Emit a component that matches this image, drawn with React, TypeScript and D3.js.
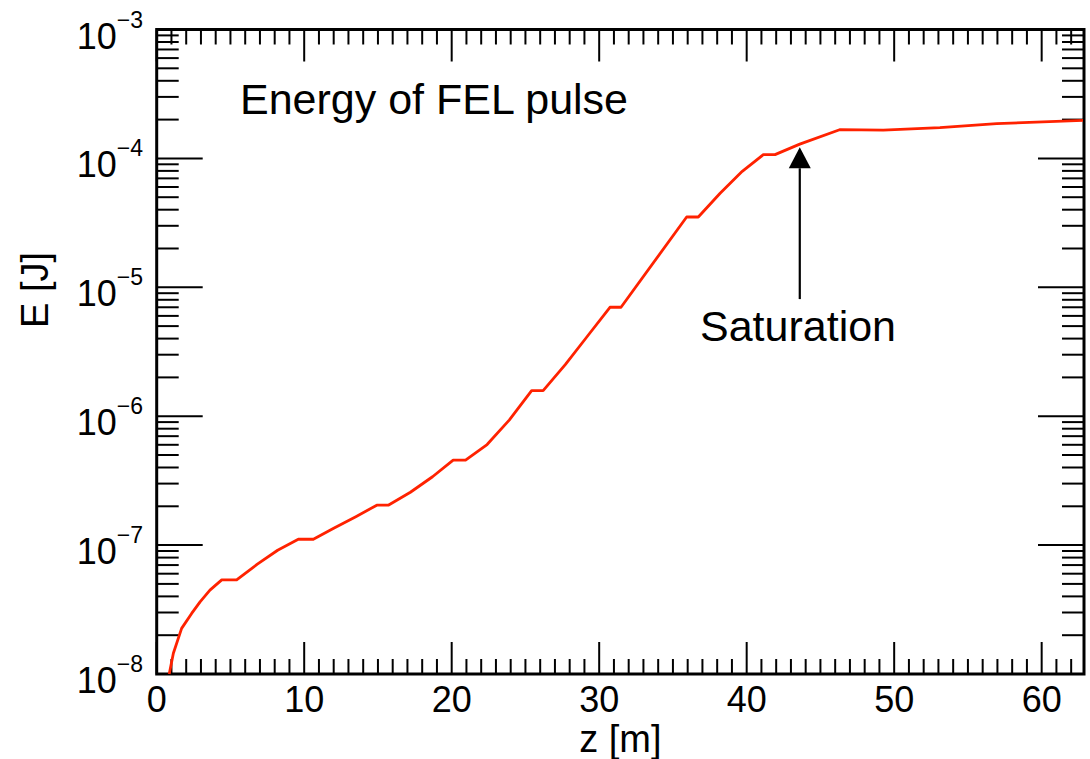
import React from "react";
import * as d3 from "d3";

// Data (z in m, E in J)
const zValues = [
  0.85, 1.13, 1.69, 2.37, 2.94, 3.61, 4.41, 5.42, 6.8, 8.2, 9.6, 10.62, 12.0, 13.5,
  14.92, 15.7, 17.2, 18.7, 20.1, 20.94, 22.4, 23.9, 25.42, 26.2, 27.7, 29.2, 30.73,
  31.48, 35.93, 36.72, 38.2, 39.7, 41.13, 41.92, 43.6, 46.3, 49.26, 53.1, 56.95, 62.8,
];
const energyValues = [
  1.0e-8, 1.45e-8, 2.26e-8, 2.95e-8, 3.63e-8, 4.47e-8, 5.37e-8, 5.37e-8, 7.08e-8,
  9.12e-8, 1.11e-7, 1.11e-7, 1.35e-7, 1.66e-7, 2.04e-7, 2.04e-7, 2.57e-7, 3.39e-7,
  4.57e-7, 4.57e-7, 6.03e-7, 9.33e-7, 1.58e-6, 1.58e-6, 2.51e-6, 4.17e-6, 7.0e-6,
  7.0e-6, 3.51e-5, 3.51e-5, 5.37e-5, 7.94e-5, 1.07e-4, 1.07e-4, 1.29e-4, 1.67e-4,
  1.66e-4, 1.73e-4, 1.86e-4, 1.97e-4,
];
const xMajorTicks = [0, 10, 20, 30, 40, 50, 60];
const yDecadeExponents = [-8, -7, -6, -5, -4, -3];

const xDomain: [number, number] = [0, 62.87];
const yDomain: [number, number] = [1e-8, 1e-3];

const titleText = "Energy of FEL pulse";
const annotationText = "Saturation";
const saturationZ = 43.6;
const xLabel = "z [m]";
const yLabel = "E [J]";

const W = 1090;
const H = 759;
const left = 156.7;
const right = 1084;
const top = 29.5;
const bottom = 674;
const FONT = "'Liberation Sans', Arial, Helvetica, sans-serif";

export default function App() {
  const x = d3.scaleLinear().domain(xDomain).range([left, right]);
  const y = d3.scaleLog().domain(yDomain).range([bottom, top]);

  const pts: [number, number][] = zValues.map((z, i) => [z, energyValues[i]]);
  const line = d3
    .line<[number, number]>()
    .x((d) => x(d[0]))
    .y((d) => y(d[1]))
    .curve(d3.curveLinear);

  const xMinor = d3.range(1, Math.floor(xDomain[1]) + 1).filter((v) => v % 10 !== 0);
  const yMinor: number[] = [];
  for (let e = -8; e < -3; e++) {
    for (let m = 2; m <= 9; m++) yMinor.push(m * Math.pow(10, e));
  }

  const minorX = 15;
  const majorX = 32;
  const minorY = 22;
  const majorY = 46;
  const tickW = 2;

  const arrowX = x(saturationZ);
  const arrowTip = y(1.22e-4);
  const arrowBase = arrowTip + 21;
  const arrowEnd = y(8.1e-6);

  return (
    <svg
      width={W}
      height={H}
      style={{ position: "absolute", left: 0, top: 0, background: "#fff" }}
      fontFamily={FONT}
    >
      <rect x={0} y={0} width={W} height={H} fill="#fff" />
      {xMinor.map((v) => (
        <g key={"xm" + v} stroke="#000" strokeWidth={tickW}>
          <line x1={x(v)} x2={x(v)} y1={bottom} y2={bottom - minorX} />
          <line x1={x(v)} x2={x(v)} y1={top} y2={top + minorX} />
        </g>
      ))}
      {xMajorTicks.map((v) => (
        <g key={"xM" + v} stroke="#000" strokeWidth={tickW}>
          <line x1={x(v)} x2={x(v)} y1={bottom} y2={bottom - majorX} />
          <line x1={x(v)} x2={x(v)} y1={top} y2={top + majorX} />
        </g>
      ))}
      {yMinor.map((v, i) => (
        <g key={"ym" + i} stroke="#000" strokeWidth={tickW}>
          <line x1={left} x2={left + minorY} y1={y(v)} y2={y(v)} />
          <line x1={right} x2={right - minorY} y1={y(v)} y2={y(v)} />
        </g>
      ))}
      {yDecadeExponents.map((e) => (
        <g key={"yM" + e} stroke="#000" strokeWidth={tickW}>
          <line x1={left} x2={left + majorY} y1={y(Math.pow(10, e))} y2={y(Math.pow(10, e))} />
          <line x1={right} x2={right - majorY} y1={y(Math.pow(10, e))} y2={y(Math.pow(10, e))} />
        </g>
      ))}
      <rect
        x={left}
        y={top}
        width={right - left}
        height={bottom - top}
        fill="none"
        stroke="#000"
        strokeWidth={3}
      />
      {xMajorTicks.map((v) => (
        <text key={"xl" + v} x={x(v)} y={bottom + 38} fontSize={36} textAnchor="middle" fill="#000">
          {v}
        </text>
      ))}
      {yDecadeExponents.map((e) => (
        <text
          key={"yl" + e}
          x={143}
          y={y(Math.pow(10, e)) + 19}
          fontSize={36}
          textAnchor="end"
          fill="#000"
        >
          <tspan>10</tspan>
          <tspan dy={-21} fontSize={23}>
            {"\u2212" + Math.abs(e)}
          </tspan>
        </text>
      ))}
      <text x={(left + right) / 2} y={752} fontSize={38} textAnchor="middle" fill="#000">
        {xLabel}
      </text>
      <text transform={`translate(48, 290) rotate(-90)`} fontSize={38} textAnchor="middle" fill="#000">
        {yLabel}
      </text>
      <text x={240} y={114} fontSize={43} fill="#000">
        {titleText}
      </text>
      <path d={line(pts) || ""} fill="none" stroke="#FF2200" strokeWidth={2.8} strokeLinejoin="round" />
      <line x1={arrowX} x2={arrowX} y1={arrowEnd} y2={arrowBase} stroke="#000" strokeWidth={2.2} />
      <polygon
        points={`${arrowX},${arrowTip} ${arrowX - 11},${arrowBase} ${arrowX + 11},${arrowBase}`}
        fill="#000"
      />
      <text x={700} y={341} fontSize={43} fill="#000">
        {annotationText}
      </text>
    </svg>
  );
}
